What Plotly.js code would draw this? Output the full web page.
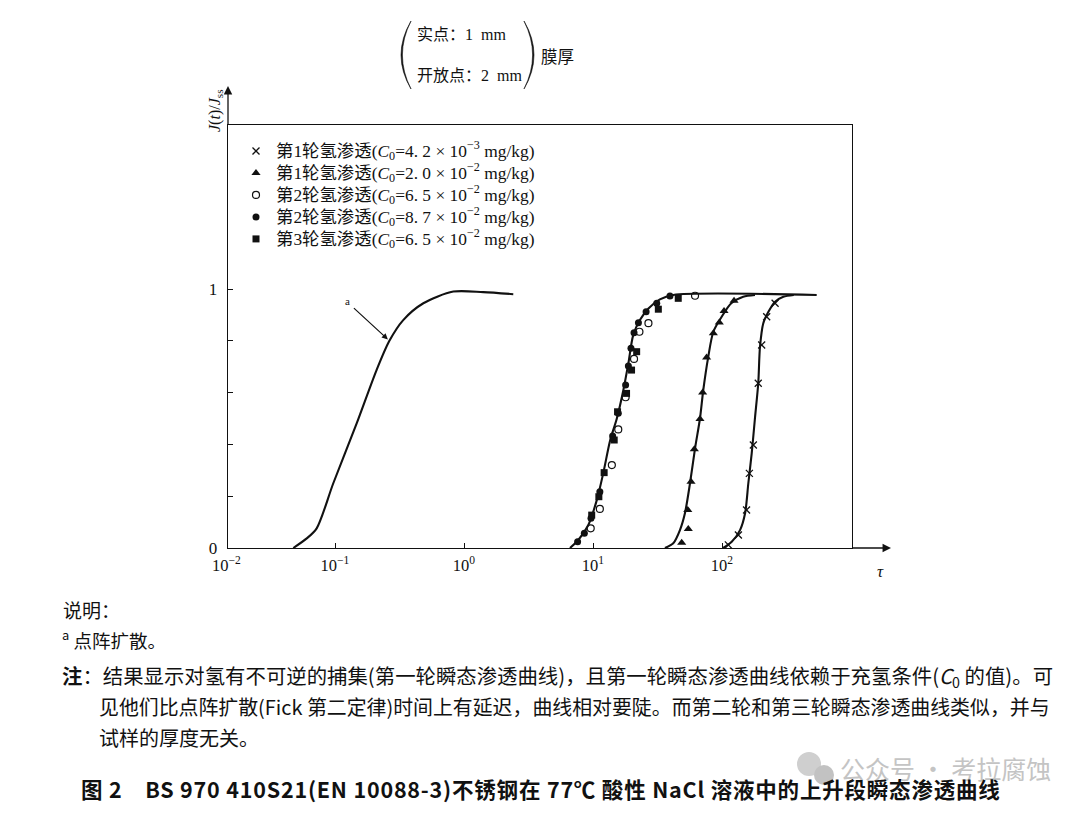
<!DOCTYPE html>
<html>
<head>
<meta charset="utf-8">
<script src="https://cdn.plot.ly/plotly-3.0.1.min.js"></script>
<style>
html,body{margin:0;padding:0;background:#fff;}
#chart{width:1080px;height:813px;}
</style>
</head>
<body>
<div id="chart"></div>
<script>
// ---------- data (tau, J(t)/Jss) ----------
// fitted / lattice-diffusion curves
const curveA_tau = [0.0475, 0.0604, 0.0721, 0.097, 0.147, 0.210, 0.264, 0.338, 0.484, 0.826, 1.41, 2.41];
const curveA_val = [0, 0.037, 0.076, 0.25, 0.48, 0.687, 0.80, 0.88, 0.945, 0.99, 0.988, 0.98];

const curveB_tau = [6.63, 7.69, 9.2, 10.7, 12.0, 13.6, 15.3, 17.2, 18.8, 20.5, 23.1, 26.9, 33.0, 41.9, 542];
const curveB_val = [0, 0.031, 0.089, 0.185, 0.288, 0.417, 0.50, 0.61, 0.713, 0.822, 0.88, 0.925, 0.96, 0.977, 0.977];

const curveC_tau = [36.1, 41.9, 47.2, 51.6, 56.5, 61.8, 67.5, 71.6, 78.3, 85.7, 99.5, 118, 146, 180];
const curveC_val = [0, 0.018, 0.069, 0.134, 0.25, 0.385, 0.50, 0.61, 0.739, 0.835, 0.893, 0.945, 0.970, 0.977];

const curveD_tau = [102, 119, 138, 151, 160, 170, 180, 191, 197, 209, 229, 258, 299, 360];
const curveD_val = [0, 0.024, 0.069, 0.134, 0.25, 0.366, 0.50, 0.636, 0.777, 0.868, 0.912, 0.951, 0.970, 0.977];

// measured points
const r1a_tau = [112, 134, 155, 163, 175, 191, 203, 222, 258];            // 第1轮 C0=4.2e-3
const r1a_val = [0.012, 0.050, 0.147, 0.288, 0.398, 0.636, 0.784, 0.893, 0.945];

const r1b_tau = [48.7, 54.8, 54.3, 57.5, 61.0, 67.5, 70.8, 76.0, 85.7, 95.3, 103.7, 124]; // 第1轮 C0=2.0e-2
const r1b_val = [0.020, 0.073, 0.147, 0.256, 0.381, 0.498, 0.600, 0.736, 0.829, 0.871, 0.915, 0.955];

const r2a_tau = [9.6, 11.3, 14.0, 15.7, 17.9, 20.8, 22.9, 26.9, 61.8];   // 第2轮 C0=6.5e-2 (open)
const r2a_val = [0.076, 0.151, 0.32, 0.458, 0.582, 0.730, 0.835, 0.868, 0.974];

const r2b_tau = [7.6, 8.57, 9.65, 11.3, 14.2, 15.7, 17.9, 18.8, 19.7, 20.8, 22.5, 25.8, 31.2, 39.5]; // 第2轮 C0=8.7e-2
const r2b_val = [0.024, 0.057, 0.115, 0.217, 0.432, 0.52, 0.629, 0.703, 0.771, 0.831, 0.870, 0.912, 0.945, 0.973];

const r3_tau = [9.77, 11.1, 12.2, 14.6, 15.5, 18.2, 19.9, 21.8, 32.1, 45.8]; // 第3轮 C0=6.5e-2
const r3_val = [0.127, 0.198, 0.291, 0.417, 0.526, 0.597, 0.687, 0.758, 0.922, 0.964];

const seriesLabels = ['第1轮氢渗透', '第1轮氢渗透', '第2轮氢渗透', '第2轮氢渗透', '第3轮氢渗透'];
const seriesC0 = ['4. 2 × 10<sup>−3</sup>', '2. 0 × 10<sup>−2</sup>', '6. 5 × 10<sup>−2</sup>',
                  '8. 7 × 10<sup>−2</sup>', '6. 5 × 10<sup>−2</sup>'];
const xTickVals = [0.1, 1, 10, 100];
const xTickText = ['10<sup>−1</sup>', '10<sup>0</sup>', '10<sup>1</sup>', '10<sup>2</sup>'];
const yTickVals = [0, 1];
const yTickText = ['0', '1'];
const yMinorVals = [0.2, 0.4, 0.6, 0.8];

// ---------- layout helpers (pixel -> paper) ----------
const L = 228, R = 852, T = 125, B = 548;
const fx = p => (p - L) / (R - L);
const fy = p => (B - p) / (B - T);
const SERIF = 'Liberation Serif, "Noto Sans CJK SC", serif';
const CJK = '"Noto Sans CJK SC", Liberation Serif, sans-serif';
const INK = '#111';

const legendName = i => '<span style="font-size:17.4px">' + seriesLabels[i] +
  '(<i>C</i><sub>0</sub>=' + seriesC0[i] + ' mg/kg)</span>';

const lineStyle = {color: INK, width: 2.1, shape: 'spline', smoothing: 0.8};
const traces = [
  {x: curveA_tau, y: curveA_val, mode: 'lines', line: lineStyle, showlegend: false, hoverinfo: 'skip'},
  {x: curveB_tau, y: curveB_val, mode: 'lines', line: lineStyle, showlegend: false, hoverinfo: 'skip'},
  {x: curveC_tau, y: curveC_val, mode: 'lines', line: lineStyle, showlegend: false, hoverinfo: 'skip'},
  {x: curveD_tau, y: curveD_val, mode: 'lines', line: lineStyle, showlegend: false, hoverinfo: 'skip'},
  {x: r1a_tau, y: r1a_val, mode: 'markers', name: legendName(0),
   marker: {symbol: 'x-thin-open', size: 7, color: INK, line: {color: INK, width: 1.3}}},
  {x: r1b_tau, y: r1b_val, mode: 'markers', name: legendName(1),
   marker: {symbol: 'triangle-up', size: 8, color: INK}},
  {x: r2a_tau, y: r2a_val, mode: 'markers', name: legendName(2),
   marker: {symbol: 'circle-open', size: 7, color: INK, line: {color: INK, width: 1.2}}},
  {x: r2b_tau, y: r2b_val, mode: 'markers', name: legendName(3),
   marker: {symbol: 'circle', size: 7, color: INK}},
  {x: r3_tau, y: r3_val, mode: 'markers', name: legendName(4),
   marker: {symbol: 'square', size: 7, color: INK}}
];

// parentheses drawn as filled crescents (paper coords)
function paren(xTop, yTop, xMid, yBot, bulge, thick) {
  const ctrlOuter = 2 * xMid - xTop;
  const ctrlInner = ctrlOuter + thick * (bulge < 0 ? 1 : -1) * 2;
  const yM = (yTop + yBot) / 2;
  return 'M ' + fx(xTop) + ' ' + fy(yTop) +
    ' Q ' + fx(ctrlOuter) + ' ' + fy(yM) + ' ' + fx(xTop) + ' ' + fy(yBot) +
    ' Q ' + fx(ctrlInner) + ' ' + fy(yM) + ' ' + fx(xTop) + ' ' + fy(yTop) + ' Z';
}
function circ(cx, cy, r, color) {
  return {type: 'circle', xref: 'paper', yref: 'paper', x0: fx(cx - r), x1: fx(cx + r),
          y0: fy(cy + r), y1: fy(cy - r), fillcolor: color, line: {width: 0}};
}

const shapes = [
  {type: 'path', xref: 'paper', yref: 'paper', path: paren(411, 21, 401, 89, -1, 1.4),
   fillcolor: INK, line: {color: INK, width: 0.6}},
  {type: 'path', xref: 'paper', yref: 'paper', path: paren(524, 21, 534, 89, 1, 1.4),
   fillcolor: INK, line: {color: INK, width: 0.6}},
  // watermark icon
  circ(809, 764, 12, '#cfcfcf'),
  circ(824, 775, 10, '#c2c2c2')
];

const txt = (x, y, text, opts) => Object.assign({
  xref: 'paper', yref: 'paper', x: fx(x), y: fy(y), text: text, showarrow: false,
  xanchor: 'left', yanchor: 'middle', font: {family: CJK, size: 15, color: INK}
}, opts || {});
const NB = '\u00a0';

const annotations = [
  // header
  txt(415, 35, '实点：1' + NB + NB + 'mm', {font: {family: SERIF, size: 16, color: INK}}),
  txt(415, 75, '开放点：2' + NB + NB + 'mm', {font: {family: SERIF, size: 16, color: INK}}),
  txt(539, 57, '膜厚', {font: {family: SERIF, size: 16.5, color: INK}}),
  // axis arrows
  {xref: 'paper', yref: 'paper', x: fx(L), y: fy(86), ax: 0, ay: 40, text: '', showarrow: true,
   arrowhead: 2, arrowsize: 1.3, arrowwidth: 1.3, arrowcolor: INK, standoff: 0},
  {xref: 'paper', yref: 'paper', x: fx(891), y: fy(B), ax: -40, ay: 0, text: '', showarrow: true,
   arrowhead: 2, arrowsize: 1.3, arrowwidth: 1.3, arrowcolor: INK, standoff: 0},
  // axis titles
  txt(216, 111, '<i>J</i>(<i>t</i>)/<i>J</i><sub>ss</sub>',
      {textangle: -90, xanchor: 'center', font: {family: SERIF, size: 16, color: INK}}),
  txt(880, 571, '<i>τ</i>', {xanchor: 'center', font: {family: SERIF, size: 17, color: INK}}),
  txt(226, 564, '10<sup>−2</sup>', {xanchor: 'center', font: {family: SERIF, size: 16.5, color: INK}}),
  // arrow "a"
  {xref: 'x', yref: 'y', x: Math.log10(0.264), y: 0.80, ax: -37, ay: -34, text: '', showarrow: true,
   arrowhead: 2, arrowsize: 1, arrowwidth: 1.2, arrowcolor: INK, standoff: 2},
  txt(347, 301, 'a', {xanchor: 'center', font: {family: SERIF, size: 11, color: INK}}),
  // notes
  txt(61, 609, '说明：', {font: {family: CJK, size: 19, color: INK}}),
  txt(60, 639, '<sup>a</sup>' + NB + '点阵扩散。', {font: {family: CJK, size: 18.5, color: INK}}),
  txt(60, 676, '<b>注</b>：结果显示对氢有不可逆的捕集(第一轮瞬态渗透曲线)，且第一轮瞬态渗透曲线依赖于充氢条件(<i>C</i><sub>0</sub> 的值)。可',
      {font: {family: CJK, size: 20.4, color: INK}}),
  txt(97, 706, '见他们比点阵扩散(Fick 第二定律)时间上有延迟，曲线相对要陡。而第二轮和第三轮瞬态渗透曲线类似，并与',
      {font: {family: CJK, size: 19.9, color: INK}}),
  txt(97, 737, '试样的厚度无关。', {font: {family: CJK, size: 20, color: INK}}),
  // watermark
  txt(838, 768, '公众号 · 考拉腐蚀', {font: {family: CJK, size: 25, color: '#c4c4c4'}}),
  // caption
  txt(79, 788, '<b><span style="letter-spacing:0.8px">图 2' + NB + NB + NB + NB +
      'BS 970 410S21(EN 10088-3)不锈钢在 77℃ 酸性 NaCl 溶液中的上升段瞬态渗透曲线</span></b>',
      {font: {family: CJK, size: 21.5, color: INK}})
];

const layout = {
  width: 1080, height: 813,
  margin: {l: L, r: 1080 - R, t: T, b: 813 - B, pad: 0},
  paper_bgcolor: '#fff', plot_bgcolor: '#fff',
  showlegend: true,
  legend: {x: fx(236), y: fy(135), xanchor: 'left', yanchor: 'top', bgcolor: 'rgba(0,0,0,0)',
           font: {family: SERIF, size: 14.6, color: INK}, tracegroupgap: 0, itemwidth: 30},
  xaxis: {type: 'log', range: [1 + (L - 593) / 129, 1 + (R - 593) / 129],
          tickvals: xTickVals, ticktext: xTickText, ticks: 'inside', ticklen: 5, tickwidth: 1,
          tickcolor: INK, showgrid: false, zeroline: false, showline: true, linecolor: INK,
          linewidth: 1.3, mirror: true, ticklabelstandoff: 2,
          tickfont: {family: SERIF, size: 16.5, color: INK}},
  yaxis: {range: [0, (B - T) / 259], tickvals: yTickVals, ticktext: yTickText,
          ticks: 'inside', ticklen: 5, tickwidth: 1, tickcolor: INK, showgrid: false,
          zeroline: false, showline: true, linecolor: INK, linewidth: 1.3, mirror: true,
          ticklabelstandoff: 6,
          minor: {tickmode: 'array', tickvals: yMinorVals, ticks: 'inside', ticklen: 5,
                  tickwidth: 1, tickcolor: INK, showgrid: false},
          tickfont: {family: SERIF, size: 17, color: INK}},
  shapes: shapes,
  annotations: annotations
};

Plotly.newPlot('chart', traces, layout, {displayModeBar: false, staticPlot: true});
</script>
</body>
</html>
